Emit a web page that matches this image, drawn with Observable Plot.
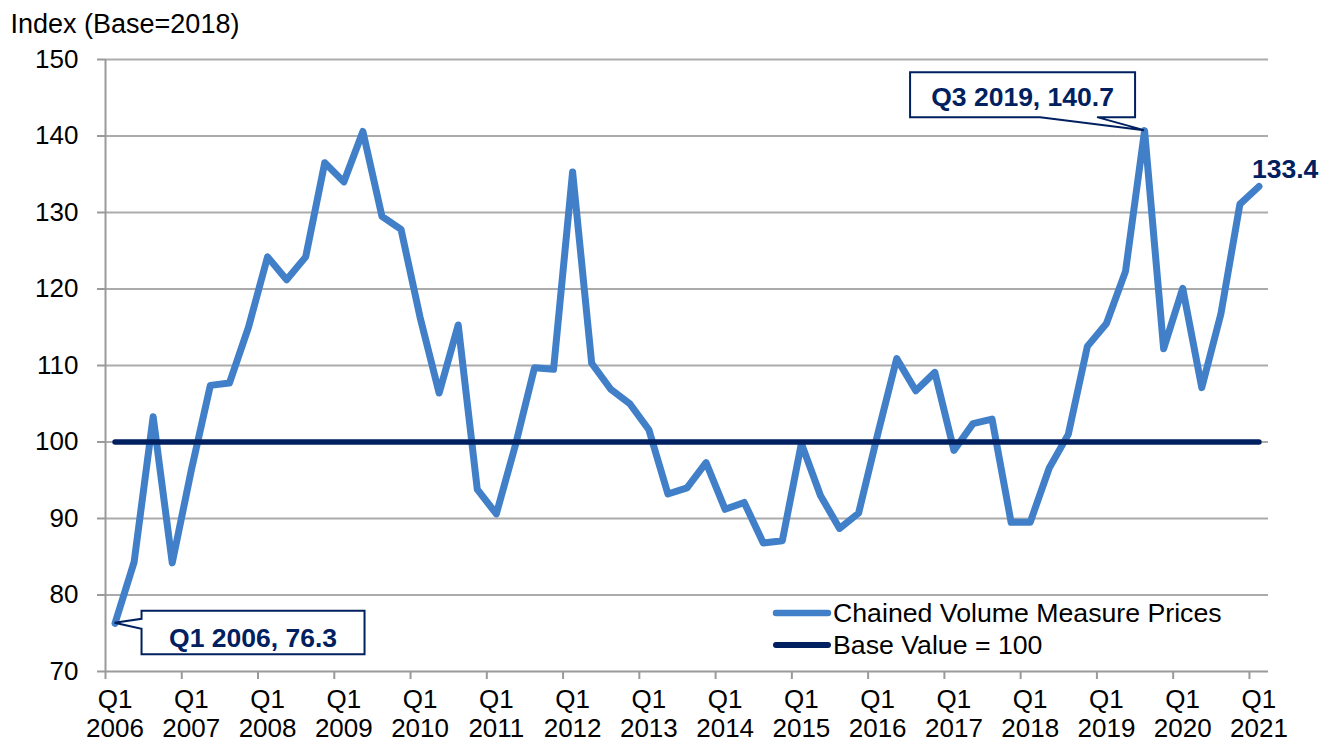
<!DOCTYPE html>
<html>
<head>
<meta charset="utf-8">
<script src="https://cdn.jsdelivr.net/npm/d3@7"></script>
<script src="https://cdn.jsdelivr.net/npm/@observablehq/plot@0.6"></script>
<style>
  html, body { margin: 0; padding: 0; background: #fff; }
  #chart svg { display: block; }
</style>
</head>
<body>
<div id="chart"></div>
<script>
const quarters = [
  "Q1 2006","Q2 2006","Q3 2006","Q4 2006",
  "Q1 2007","Q2 2007","Q3 2007","Q4 2007",
  "Q1 2008","Q2 2008","Q3 2008","Q4 2008",
  "Q1 2009","Q2 2009","Q3 2009","Q4 2009",
  "Q1 2010","Q2 2010","Q3 2010","Q4 2010",
  "Q1 2011","Q2 2011","Q3 2011","Q4 2011",
  "Q1 2012","Q2 2012","Q3 2012","Q4 2012",
  "Q1 2013","Q2 2013","Q3 2013","Q4 2013",
  "Q1 2014","Q2 2014","Q3 2014","Q4 2014",
  "Q1 2015","Q2 2015","Q3 2015","Q4 2015",
  "Q1 2016","Q2 2016","Q3 2016","Q4 2016",
  "Q1 2017","Q2 2017","Q3 2017","Q4 2017",
  "Q1 2018","Q2 2018","Q3 2018","Q4 2018",
  "Q1 2019","Q2 2019","Q3 2019","Q4 2019",
  "Q1 2020","Q2 2020","Q3 2020","Q4 2020",
  "Q1 2021"
];
const cvmPrices = [
  76.3, 84.3, 103.3, 84.2,
  96.3, 107.4, 107.7, 115.0,
  124.2, 121.2, 124.2, 136.5,
  134.0, 140.6, 129.5, 127.8,
  116.3, 106.4, 115.3, 93.8,
  90.6, 99.6, 109.7, 109.5,
  135.3, 110.3, 106.9, 105.0,
  101.6, 93.2, 94.0, 97.3,
  91.2, 92.1, 86.8, 87.1,
  99.8, 93.0, 88.7, 90.7,
  101.0, 110.9, 106.7, 109.1,
  98.9, 102.4, 103.0, 89.5,
  89.5, 96.6, 101.0, 112.5,
  115.5, 122.3, 140.7, 112.2,
  120.1, 107.1, 116.7, 131.1,
  133.4
];
const baseValue = 100;
const yTicks = [70, 80, 90, 100, 110, 120, 130, 140, 150];
const yTitle = "Index (Base=2018)";
const seriesNames = ["Chained Volume Measure Prices", "Base Value = 100"];
const callouts = [
  {q: "Q1 2006", text: "Q1 2006, 76.3"},
  {q: "Q3 2019", text: "Q3 2019, 140.7"}
];
const endLabel = "133.4";

const blue = "#4180c9";
const navy = "#002060";
const gridColor = "#ababab";
const axisColor = "#9a9a9a";
const font = "'Liberation Sans', Arial, sans-serif";

const data = quarters.map((q, i) => ({q, i, v: cvmPrices[i], base: baseValue}));
const n = quarters.length;
const labelIdx = quarters.map((q, i) => i).filter(i => quarters[i].startsWith("Q1"));
const boundaries = labelIdx.map(i => i - 0.5);
const yearOf = i => quarters[i].split(" ")[1];

const plot = Plot.plot({
  width: 1335,
  height: 742,
  marginLeft: 105,
  marginRight: 67,
  marginTop: 59,
  marginBottom: 71,
  style: {fontFamily: font, fontSize: "26px", color: "#000", background: "#fff"},
  x: {domain: [-0.5, n - 0.5]},
  y: {domain: [70, 150]},
  marks: [
    Plot.ruleY(yTicks.filter(v => v > 70), {stroke: gridColor, strokeWidth: 2}),
    Plot.ruleY([70], {stroke: axisColor, strokeWidth: 2}),
    Plot.ruleX([-0.5], {stroke: axisColor, strokeWidth: 2}),
    Plot.axisY({ticks: yTicks, tickSize: 8, tickPadding: 19, stroke: axisColor, strokeWidth: 2, fill: "#000", fontSize: 26, label: null}),
    Plot.axisX({ticks: boundaries, tickSize: 8, tickFormat: () => "", stroke: axisColor, strokeWidth: 2, label: null}),
    Plot.axisX({ticks: labelIdx, tickSize: 0, tickPadding: 17, lineHeight: 1.08, fill: "#000", fontSize: 26,
      tickFormat: i => "Q1\n" + yearOf(i), label: null}),
    Plot.line(data, {x: "i", y: "v", stroke: blue, strokeWidth: 7, strokeLinejoin: "round", strokeLinecap: "round"}),
    Plot.line(data, {x: "i", y: "base", stroke: navy, strokeWidth: 5.5, strokeLinecap: "round"}),
    Plot.text([data[n - 1]], {x: "i", y: "v", text: () => endLabel, textAnchor: "start", lineAnchor: "bottom",
      dx: -7, dy: -8, fill: navy, fontWeight: "bold", fontSize: 26.5}),
    Plot.text([yTitle], {frameAnchor: "top-left", dx: -95, dy: -27, textAnchor: "start", lineAnchor: "bottom", fill: "#000", fontSize: 27})
  ]
});

document.getElementById("chart").appendChild(plot);

const sx = plot.scale("x"), sy = plot.scale("y");
const svg = d3.select(plot);
const g = svg.append("g").attr("font-family", font).attr("text-anchor", "start");

// Callout for Q1 2006 (box to the right of the point)
{
  const i = quarters.indexOf(callouts[0].q);
  const px = sx.apply(i), py = sy.apply(cvmPrices[i]);
  const L = px + 27, R = px + 250, T = py - 12, B = py + 31.5;
  g.append("path")
    .attr("d", `M${L},${T}H${R}V${B}H${L}V${py + 6}L${px},${py}L${L},${py - 4}Z`)
    .attr("fill", "#fff").attr("stroke", navy).attr("stroke-width", 2).attr("stroke-linejoin", "miter");
  g.append("text").attr("x", (L + R) / 2).attr("y", py + 24)
    .attr("text-anchor", "middle").attr("font-size", 26.5).attr("font-weight", "bold").attr("fill", navy)
    .text(callouts[0].text);
}
// Callout for Q3 2019 (box above-left of the point)
{
  const i = quarters.indexOf(callouts[1].q);
  const px = sx.apply(i), py = sy.apply(cvmPrices[i]);
  const L = px - 234, R = px - 9, T = py - 58, B = py - 13;
  g.append("path")
    .attr("d", `M${L},${T}H${R}V${B}H${px - 47}L${px},${py}L${px - 104},${B}H${L}Z`)
    .attr("fill", "#fff").attr("stroke", navy).attr("stroke-width", 2).attr("stroke-linejoin", "miter");
  g.append("text").attr("x", (L + R) / 2).attr("y", py - 24)
    .attr("text-anchor", "middle").attr("font-size", 26.5).attr("font-weight", "bold").attr("fill", navy)
    .text(callouts[1].text);
}

// Legend
const legendItems = [{name: seriesNames[0], color: blue, w: 6.5, y: 613}, {name: seriesNames[1], color: navy, w: 6, y: 645}];
legendItems.forEach(d => {
  g.append("line").attr("x1", 776).attr("x2", 828).attr("y1", d.y).attr("y2", d.y)
    .attr("stroke", d.color).attr("stroke-width", d.w).attr("stroke-linecap", "round");
  g.append("text").attr("x", 833).attr("y", d.y + 9).attr("text-anchor", "start")
    .attr("font-size", 26.7).attr("fill", "#000").text(d.name);
});
</script>
</body>
</html>
